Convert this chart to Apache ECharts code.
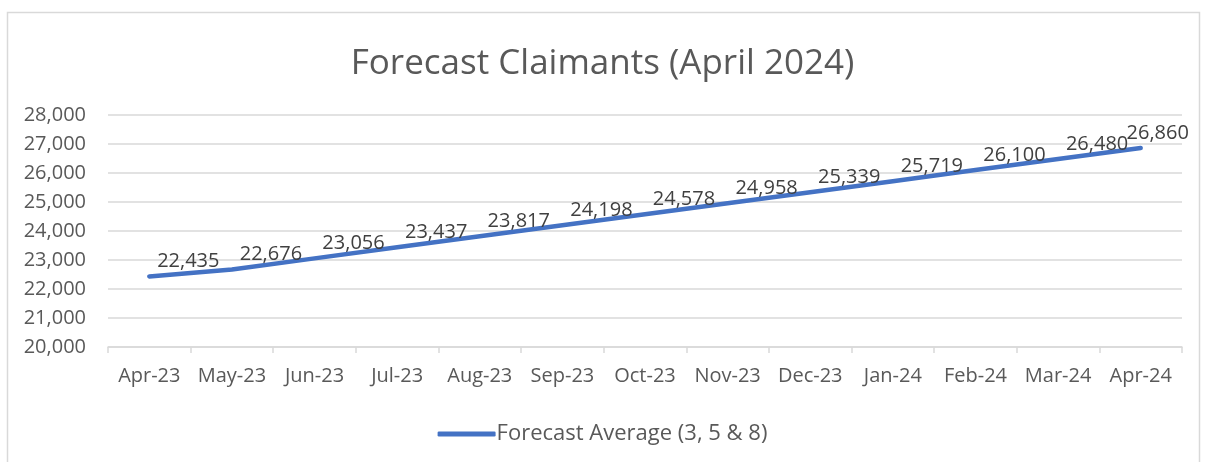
<!DOCTYPE html>
<html><head><meta charset="utf-8">
<script src="https://cdn.jsdelivr.net/npm/echarts@6/dist/echarts.min.js"></script>
<style>html,body{margin:0;padding:0;background:#fff}#c{width:1205px;height:462px}</style>
</head><body><div id="c"></div>
<script>
const categories = ['Apr-23','May-23','Jun-23','Jul-23','Aug-23','Sep-23','Oct-23','Nov-23','Dec-23','Jan-24','Feb-24','Mar-24','Apr-24'];
const forecastAverage = [22435,22676,23056,23437,23817,24198,24578,24958,25339,25719,26100,26480,26860];
const seriesName = 'Forecast Average (3, 5 & 8)';
const chartTitle = 'Forecast Claimants (April 2024)';
const FONT = '"Open Sans", "Noto Sans", sans-serif';
const TXT = '#595959';
const lastIdx = forecastAverage.length - 1;
const seriesData = forecastAverage.map((v, i) => i === lastIdx ? {value: v, label: {offset: [17, 0]}} : v);
const chart = echarts.init(document.getElementById('c'), null, {renderer:'canvas'});
chart.setOption({
  animation:false,
  textStyle:{fontFamily:FONT},
  graphic:[{type:'rect',shape:{x:7.5,y:12.5,width:1192,height:470},style:{fill:'none',stroke:'#d9d9d9',lineWidth:1.5},silent:true}],
  title:{text:chartTitle,left:'center',top:42,textStyle:{fontFamily:FONT,fontSize:35,fontWeight:'normal',color:TXT}},
  legend:{bottom:12,left:'center',icon:'roundRect',itemWidth:58,itemHeight:5,itemGap:4,
    itemStyle:{color:'#4472C4'},
    textStyle:{fontFamily:FONT,fontSize:22,color:TXT,padding:[0,0,0,-4]},data:[seriesName]},
  grid:{left:108,right:23,top:115,bottom:115,containLabel:false},
  xAxis:{type:'category',data:categories,boundaryGap:true,
    axisLine:{lineStyle:{color:'#d9d9d9',width:1.5}},
    axisTick:{show:true,length:6,lineStyle:{color:'#d9d9d9',width:1.5}},
    axisLabel:{color:TXT,fontFamily:FONT,fontSize:20,margin:19,interval:0}},
  yAxis:{type:'value',min:20000,max:28000,interval:1000,
    axisLine:{show:false},axisTick:{show:false},
    splitLine:{lineStyle:{color:'#d9d9d9',width:1.5}},
    axisLabel:{color:TXT,fontFamily:FONT,fontSize:20,margin:22,
      formatter:v=>v.toLocaleString('en-US')}},
  series:[{name:seriesName,type:'line',data:seriesData,symbol:'circle',symbolSize:0.01,showSymbol:true,
    smooth:false,
    lineStyle:{color:'#4472C4',width:4.5,cap:'round'},itemStyle:{color:'#4472C4'},
    label:{show:true,position:'top',distance:5,offset:[39,0],color:'#404040',fontFamily:FONT,fontSize:20,
      formatter:p=>p.value.toLocaleString('en-US')}}]
});
</script></body></html>
